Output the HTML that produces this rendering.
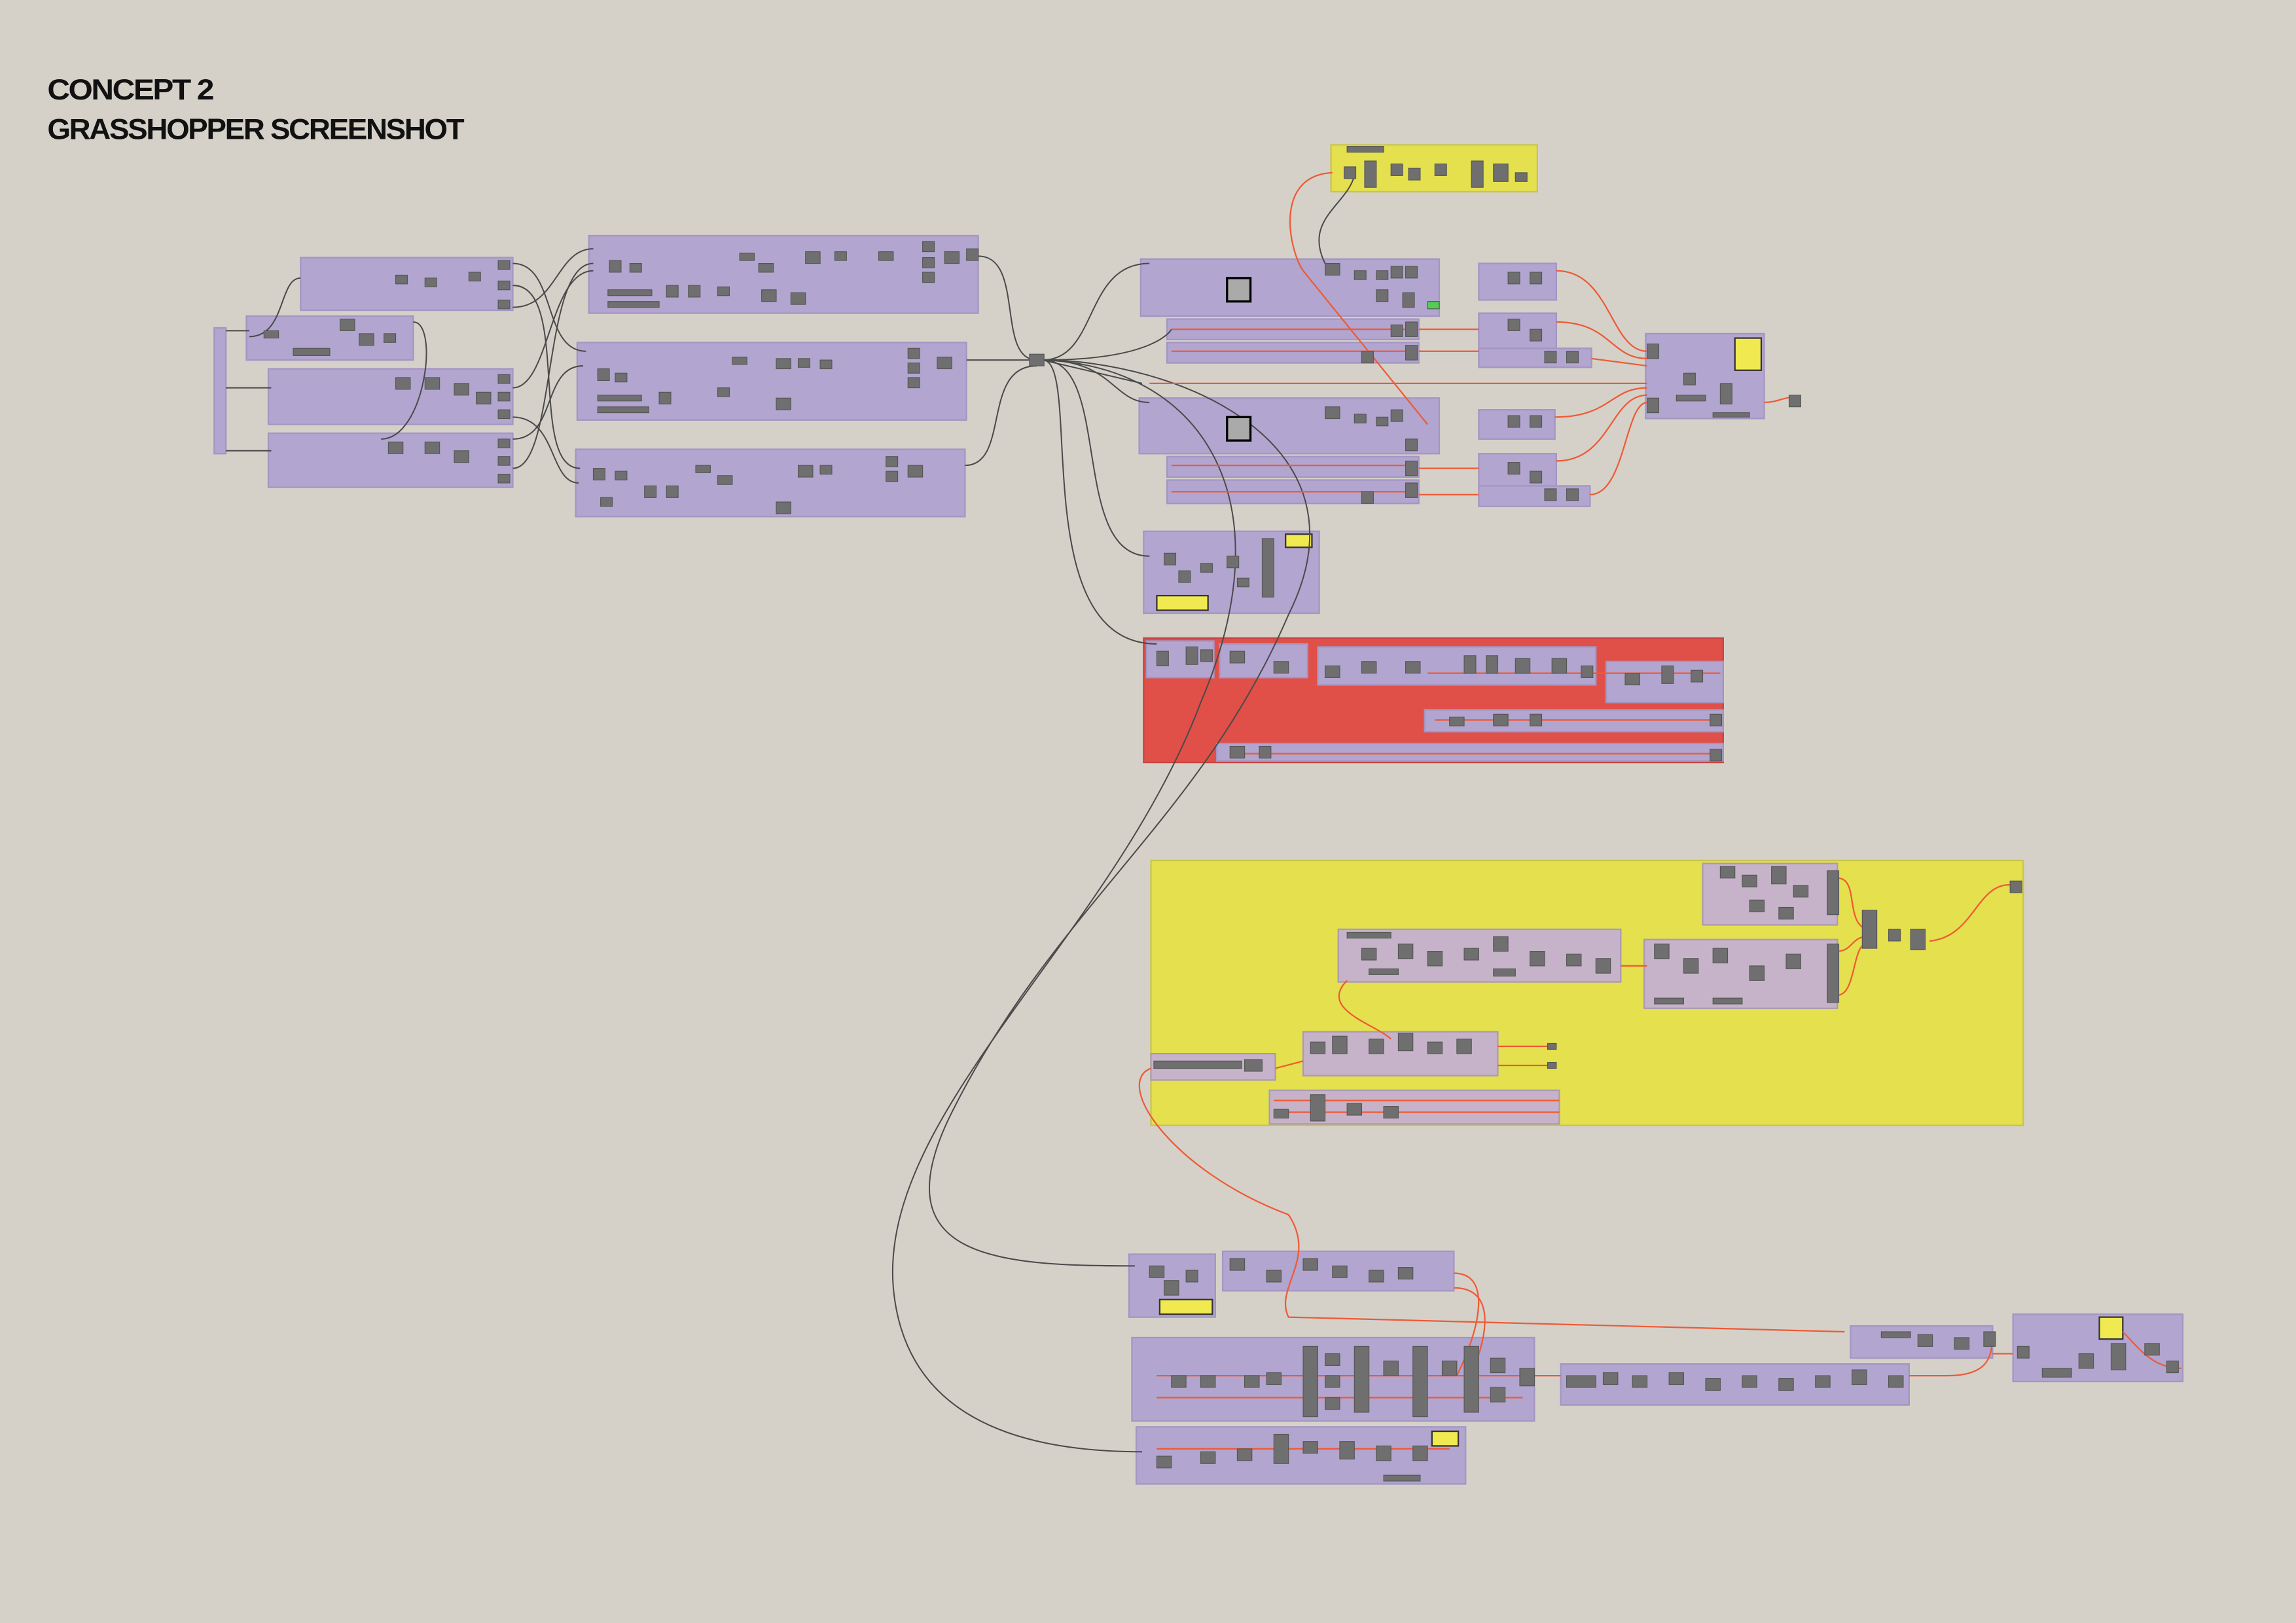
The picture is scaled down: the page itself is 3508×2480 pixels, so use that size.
<!DOCTYPE html>
<html><head><meta charset="utf-8"><style>
html,body{margin:0;padding:0;background:#d5d1c9;}
svg{display:block}
.g{fill:#b2a5cf;stroke:#a396c2;stroke-width:1}
.gi{fill:#c6b3c9;stroke:#a99ab3;stroke-width:1}
.n{fill:#6f6f6f;stroke:#555;stroke-width:.5}
.w{fill:none;stroke:#4a4a4a;stroke-width:.9}
.o{fill:none;stroke:#ee5a35;stroke-width:1}
.t{font-family:"Liberation Sans",sans-serif;font-weight:bold;font-size:20px;fill:#111;letter-spacing:-1px}
</style></head><body>
<svg width="3508" height="2480" viewBox="0 0 1568 1109" xmlns="http://www.w3.org/2000/svg">
<rect width="1568" height="1109" fill="#d5d1c9"/>
<text class="t" x="32" y="68" textLength="113" lengthAdjust="spacingAndGlyphs">CONCEPT 2</text>
<text class="t" x="32" y="95" textLength="284" lengthAdjust="spacingAndGlyphs">GRASSHOPPER SCREENSHOT</text>

<rect class="g" x="146" y="224" width="8" height="86"/>
<rect class="g" x="205" y="176" width="145" height="36"/>
<rect class="g" x="168" y="216" width="114" height="30"/>
<rect class="g" x="183" y="252" width="167" height="38"/>
<rect class="g" x="183" y="296" width="167" height="37"/>
<rect class="g" x="402" y="161" width="266" height="53"/>
<rect class="g" x="394" y="234" width="266" height="53"/>
<rect class="g" x="393" y="307" width="266" height="46"/>

<rect x="909" y="99" width="141" height="32" fill="#e4e04e" stroke="#c9c450"/>
<rect class="g" x="779" y="177" width="204" height="39"/>
<rect class="g" x="797" y="218" width="172" height="14"/>
<rect class="g" x="797" y="234" width="172" height="14"/>
<rect class="g" x="1010" y="180" width="53" height="25"/>
<rect class="g" x="1010" y="214" width="53" height="26"/>
<rect class="g" x="1010" y="238" width="77" height="13"/>
<rect class="g" x="1124" y="228" width="81" height="58"/>
<rect x="1185" y="231" width="18" height="22" fill="#f0ea50" stroke="#333"/>
<rect class="g" x="778" y="272" width="205" height="38"/>
<rect class="g" x="797" y="312" width="172" height="14"/>
<rect class="g" x="797" y="328" width="172" height="16"/>
<rect class="g" x="1010" y="280" width="52" height="20"/>
<rect class="g" x="1010" y="310" width="53" height="24"/>
<rect class="g" x="1010" y="332" width="76" height="14"/>
<rect class="g" x="781" y="363" width="120" height="56"/>
<rect x="790" y="407" width="35" height="10" fill="#f0ea50" stroke="#333"/>
<rect x="878" y="365" width="18" height="9" fill="#f0ea50" stroke="#333"/>

<rect x="781" y="436" width="396" height="85" fill="#e04f48" stroke="#c84440"/>
<rect class="g" x="783" y="438" width="46" height="25"/>
<rect class="g" x="833" y="440" width="60" height="23"/>
<rect class="g" x="900" y="442" width="190" height="26"/>
<rect class="g" x="1097" y="452" width="80" height="28"/>
<rect class="g" x="973" y="485" width="204" height="15"/>
<rect class="g" x="831" y="508" width="346" height="12"/>

<rect x="786" y="588" width="596" height="181" fill="#e4e04e" stroke="#c8c44a"/>
<rect class="gi" x="1163" y="590" width="92" height="42"/>
<rect class="gi" x="914" y="635" width="193" height="36"/>
<rect class="gi" x="1123" y="642" width="132" height="47"/>
<rect class="gi" x="890" y="705" width="133" height="30"/>
<rect class="gi" x="786" y="720" width="85" height="18"/>
<rect class="gi" x="867" y="745" width="198" height="23"/>

<rect class="g" x="771" y="857" width="59" height="43"/>
<rect x="792" y="888" width="36" height="10" fill="#f0ea50" stroke="#333"/>
<rect class="g" x="835" y="855" width="158" height="27"/>
<rect class="g" x="773" y="914" width="275" height="57"/>
<rect class="g" x="776" y="975" width="225" height="39"/>
<rect x="978" y="978" width="18" height="10" fill="#f0ea50" stroke="#333"/>
<rect class="g" x="1066" y="932" width="238" height="28"/>
<rect class="g" x="1264" y="906" width="97" height="22"/>
<rect class="g" x="1375" y="898" width="116" height="46"/>
<rect x="1434" y="900" width="16" height="15" fill="#f0ea50" stroke="#333"/>

<g class="w">
<path d="M350,180 C380,180 370,240 400,240"/>
<path d="M350,195 C390,195 360,320 396,320"/>
<path d="M350,210 C380,210 380,170 405,170"/>
<path d="M350,265 C375,265 375,185 405,185"/>
<path d="M350,300 C380,300 370,250 398,250"/>
<path d="M350,320 C380,320 370,180 405,180"/>
<path d="M350,285 C380,285 375,330 395,330"/>
<path d="M154,265 L185,265 M154,226 L170,226 M154,308 L185,308"/>
<path d="M205,190 C190,190 195,230 170,230"/>
<path d="M282,220 C300,220 290,300 260,300"/>
<path d="M668,175 C700,175 680,246 708,246"/>
<path d="M660,246 L708,246"/>
<path d="M659,318 C690,318 670,250 708,250"/>
<path d="M712,246 C750,246 740,180 785,180"/>
<path d="M712,246 C760,246 760,275 785,275"/>
<path d="M712,246 C790,246 800,225 800,225"/>
<path d="M712,246 C760,246 730,380 785,380"/>
<path d="M712,246 C740,246 700,440 790,440"/>
<path d="M712,246 C800,246 940,300 880,420 C820,560 720,620 650,760 C600,860 680,865 775,865"/>
<path d="M712,246 C820,250 880,340 820,480 C760,640 600,760 610,880 C620,990 740,992 780,992"/>
<path d="M712,246 L780,262"/>
<path d="M905,180 C890,150 920,140 925,120"/>
</g>
<rect class="n" x="703" y="242" width="10" height="8"/>

<g class="o">
<path d="M910,118 C870,120 880,170 890,185 L975,290"/>
<path d="M969,225 L1010,225 M969,240 L1010,240 M969,320 L1010,320 M969,338 L1010,338"/>
<path d="M1063,185 C1100,185 1100,240 1125,240"/>
<path d="M1063,220 C1100,220 1100,245 1125,245"/>
<path d="M1087,245 L1125,250"/>
<path d="M1062,285 C1100,285 1100,265 1125,265"/>
<path d="M1063,315 C1100,315 1100,270 1125,270"/>
<path d="M1086,338 C1110,338 1110,275 1125,275"/>
<path d="M785,262 L1125,262"/>
<path d="M800,225 L965,225 M800,240 L965,240 M800,318 L965,318 M800,336 L965,336"/>
<path d="M1205,275 C1215,275 1220,270 1228,272"/>
<path d="M1255,600 C1270,600 1260,630 1275,635 M1255,650 C1265,650 1265,640 1275,640 M1255,680 C1268,680 1265,645 1275,645"/>
<path d="M1318,643 C1350,640 1350,600 1377,605"/>
<path d="M1107,660 L1125,660 M1023,715 L1060,715 M1023,728 L1060,728 M871,730 L890,725"/>
<path d="M786,730 C760,740 800,800 880,830 C900,860 870,880 880,900 L1260,910"/>
<path d="M920,670 C900,690 940,700 950,710"/>
<path d="M870,760 L1065,760 M870,752 L1065,752"/>
<path d="M993,870 C1020,870 1010,910 995,940 M993,880 C1025,880 1015,920 1000,950"/>
<path d="M1048,940 L1066,940 M1304,940 L1330,940 C1360,940 1360,925 1361,915 M1361,925 L1375,925"/>
<path d="M790,940 L1040,940 M790,955 L1040,955 M790,990 L990,990"/>
<path d="M1450,910 C1460,920 1470,935 1490,935"/>
<path d="M975,460 L1175,460 M980,492 L1175,492 M840,515 L1175,515"/>
</g>

<g class="n">
<rect x="340" y="178" width="8" height="6"/><rect x="340" y="192" width="8" height="6"/><rect x="340" y="205" width="8" height="6"/>
<rect x="270" y="188" width="8" height="6"/><rect x="290" y="190" width="8" height="6"/><rect x="320" y="186" width="8" height="6"/>
<rect x="232" y="218" width="10" height="8"/><rect x="245" y="228" width="10" height="8"/><rect x="200" y="238" width="25" height="5"/><rect x="180" y="226" width="10" height="5"/><rect x="262" y="228" width="8" height="6"/>
<rect x="340" y="256" width="8" height="6"/><rect x="340" y="268" width="8" height="6"/><rect x="340" y="280" width="8" height="6"/><rect x="270" y="258" width="10" height="8"/><rect x="290" y="258" width="10" height="8"/><rect x="310" y="262" width="10" height="8"/><rect x="325" y="268" width="10" height="8"/>
<rect x="340" y="300" width="8" height="6"/><rect x="340" y="312" width="8" height="6"/><rect x="340" y="324" width="8" height="6"/><rect x="265" y="302" width="10" height="8"/><rect x="290" y="302" width="10" height="8"/><rect x="310" y="308" width="10" height="8"/>
<rect x="416" y="178" width="8" height="8"/><rect x="430" y="180" width="8" height="6"/><rect x="415" y="198" width="30" height="4"/><rect x="415" y="206" width="35" height="4"/><rect x="455" y="195" width="8" height="8"/><rect x="470" y="195" width="8" height="8"/><rect x="505" y="173" width="10" height="5"/><rect x="518" y="180" width="10" height="6"/><rect x="550" y="172" width="10" height="8"/><rect x="570" y="172" width="8" height="6"/><rect x="600" y="172" width="10" height="6"/><rect x="630" y="165" width="8" height="7"/><rect x="630" y="176" width="8" height="7"/><rect x="630" y="186" width="8" height="7"/><rect x="645" y="172" width="10" height="8"/><rect x="660" y="170" width="8" height="8"/><rect x="520" y="198" width="10" height="8"/><rect x="540" y="200" width="10" height="8"/><rect x="490" y="196" width="8" height="6"/>
<rect x="408" y="252" width="8" height="8"/><rect x="420" y="255" width="8" height="6"/><rect x="408" y="270" width="30" height="4"/><rect x="408" y="278" width="35" height="4"/><rect x="450" y="268" width="8" height="8"/><rect x="500" y="244" width="10" height="5"/><rect x="530" y="245" width="10" height="7"/><rect x="545" y="245" width="8" height="6"/><rect x="560" y="246" width="8" height="6"/><rect x="620" y="238" width="8" height="7"/><rect x="620" y="248" width="8" height="7"/><rect x="620" y="258" width="8" height="7"/><rect x="640" y="244" width="10" height="8"/><rect x="530" y="272" width="10" height="8"/><rect x="490" y="265" width="8" height="6"/>
<rect x="405" y="320" width="8" height="8"/><rect x="420" y="322" width="8" height="6"/><rect x="440" y="332" width="8" height="8"/><rect x="455" y="332" width="8" height="8"/><rect x="475" y="318" width="10" height="5"/><rect x="490" y="325" width="10" height="6"/><rect x="545" y="318" width="10" height="8"/><rect x="560" y="318" width="8" height="6"/><rect x="605" y="312" width="8" height="7"/><rect x="605" y="322" width="8" height="7"/><rect x="620" y="318" width="10" height="8"/><rect x="530" y="343" width="10" height="8"/><rect x="410" y="340" width="8" height="6"/>
<rect x="920" y="100" width="25" height="4"/><rect x="918" y="114" width="8" height="8"/><rect x="932" y="110" width="8" height="18"/><rect x="950" y="112" width="8" height="8"/><rect x="962" y="115" width="8" height="8"/><rect x="980" y="112" width="8" height="8"/><rect x="1005" y="110" width="8" height="18"/><rect x="1020" y="112" width="10" height="12"/><rect x="1035" y="118" width="8" height="6"/>
<rect x="838" y="190" width="16" height="16" fill="#aaa" stroke="#000" stroke-width="1.5"/><rect x="838" y="285" width="16" height="16" fill="#aaa" stroke="#000" stroke-width="1.5"/>
<rect x="905" y="180" width="10" height="8"/><rect x="925" y="185" width="8" height="6"/><rect x="940" y="185" width="8" height="6"/><rect x="950" y="182" width="8" height="8"/><rect x="960" y="182" width="8" height="8"/><rect x="940" y="198" width="8" height="8"/><rect x="958" y="200" width="8" height="10"/><rect x="975" y="206" width="8" height="5" fill="#5c5"/>
<rect x="960" y="220" width="8" height="10"/><rect x="950" y="222" width="8" height="8"/><rect x="960" y="236" width="8" height="10"/><rect x="930" y="240" width="8" height="8"/>
<rect x="905" y="278" width="10" height="8"/><rect x="925" y="283" width="8" height="6"/><rect x="940" y="285" width="8" height="6"/><rect x="950" y="280" width="8" height="8"/><rect x="960" y="300" width="8" height="8"/><rect x="960" y="315" width="8" height="10"/><rect x="960" y="330" width="8" height="10"/><rect x="930" y="336" width="8" height="8"/>
<rect x="1030" y="186" width="8" height="8"/><rect x="1045" y="186" width="8" height="8"/><rect x="1030" y="218" width="8" height="8"/><rect x="1045" y="225" width="8" height="8"/><rect x="1055" y="240" width="8" height="8"/><rect x="1070" y="240" width="8" height="8"/>
<rect x="1030" y="284" width="8" height="8"/><rect x="1045" y="284" width="8" height="8"/><rect x="1030" y="316" width="8" height="8"/><rect x="1045" y="322" width="8" height="8"/><rect x="1055" y="334" width="8" height="8"/><rect x="1070" y="334" width="8" height="8"/>
<rect x="1125" y="235" width="8" height="10"/><rect x="1125" y="272" width="8" height="10"/><rect x="1150" y="255" width="8" height="8"/><rect x="1175" y="262" width="8" height="14"/><rect x="1145" y="270" width="20" height="4"/><rect x="1170" y="282" width="25" height="3"/><rect x="1222" y="270" width="8" height="8"/>
<rect x="795" y="378" width="8" height="8"/><rect x="805" y="390" width="8" height="8"/><rect x="820" y="385" width="8" height="6"/><rect x="838" y="380" width="8" height="8"/><rect x="862" y="368" width="8" height="40"/><rect x="845" y="395" width="8" height="6"/>
<rect x="790" y="445" width="8" height="10"/><rect x="810" y="442" width="8" height="12"/><rect x="820" y="444" width="8" height="8"/><rect x="840" y="445" width="10" height="8"/><rect x="870" y="452" width="10" height="8"/><rect x="905" y="455" width="10" height="8"/><rect x="930" y="452" width="10" height="8"/><rect x="960" y="452" width="10" height="8"/><rect x="1000" y="448" width="8" height="12"/><rect x="1015" y="448" width="8" height="12"/><rect x="1035" y="450" width="10" height="10"/><rect x="1060" y="450" width="10" height="10"/><rect x="1080" y="455" width="8" height="8"/><rect x="1110" y="460" width="10" height="8"/><rect x="1135" y="455" width="8" height="12"/><rect x="1155" y="458" width="8" height="8"/><rect x="990" y="490" width="10" height="6"/><rect x="1020" y="488" width="10" height="8"/><rect x="1045" y="488" width="8" height="8"/><rect x="840" y="510" width="10" height="8"/><rect x="860" y="510" width="8" height="8"/><rect x="1168" y="488" width="8" height="8"/><rect x="1168" y="512" width="8" height="8"/>
<rect x="1175" y="592" width="10" height="8"/><rect x="1190" y="598" width="10" height="8"/><rect x="1210" y="592" width="10" height="12"/><rect x="1225" y="605" width="10" height="8"/><rect x="1248" y="595" width="8" height="30"/><rect x="1195" y="615" width="10" height="8"/><rect x="1215" y="620" width="10" height="8"/>
<rect x="1272" y="622" width="10" height="26"/><rect x="1290" y="635" width="8" height="8"/><rect x="1305" y="635" width="10" height="14"/><rect x="1373" y="602" width="8" height="8"/>
<rect x="920" y="637" width="30" height="4"/><rect x="930" y="648" width="10" height="8"/><rect x="955" y="645" width="10" height="10"/><rect x="975" y="650" width="10" height="10"/><rect x="1000" y="648" width="10" height="8"/><rect x="1020" y="640" width="10" height="10"/><rect x="1045" y="650" width="10" height="10"/><rect x="1070" y="652" width="10" height="8"/><rect x="1090" y="655" width="10" height="10"/><rect x="935" y="662" width="20" height="4"/><rect x="1020" y="662" width="15" height="5"/>
<rect x="1130" y="645" width="10" height="10"/><rect x="1150" y="655" width="10" height="10"/><rect x="1170" y="648" width="10" height="10"/><rect x="1195" y="660" width="10" height="10"/><rect x="1220" y="652" width="10" height="10"/><rect x="1248" y="645" width="8" height="40"/><rect x="1130" y="682" width="20" height="4"/><rect x="1170" y="682" width="20" height="4"/>
<rect x="895" y="712" width="10" height="8"/><rect x="910" y="708" width="10" height="12"/><rect x="935" y="710" width="10" height="10"/><rect x="955" y="706" width="10" height="12"/><rect x="975" y="712" width="10" height="8"/><rect x="995" y="710" width="10" height="10"/><rect x="1057" y="713" width="6" height="4"/><rect x="1057" y="726" width="6" height="4"/>
<rect x="788" y="725" width="60" height="5"/><rect x="850" y="724" width="12" height="8"/>
<rect x="895" y="748" width="10" height="18"/><rect x="920" y="754" width="10" height="8"/><rect x="945" y="756" width="10" height="8"/><rect x="870" y="758" width="10" height="6"/>
<rect x="785" y="865" width="10" height="8"/><rect x="795" y="875" width="10" height="10"/><rect x="810" y="868" width="8" height="8"/>
<rect x="840" y="860" width="10" height="8"/><rect x="865" y="868" width="10" height="8"/><rect x="890" y="860" width="10" height="8"/><rect x="910" y="865" width="10" height="8"/><rect x="935" y="868" width="10" height="8"/><rect x="955" y="866" width="10" height="8"/>
<rect x="800" y="940" width="10" height="8"/><rect x="820" y="940" width="10" height="8"/><rect x="850" y="940" width="10" height="8"/><rect x="865" y="938" width="10" height="8"/><rect x="890" y="920" width="10" height="48"/><rect x="905" y="925" width="10" height="8"/><rect x="905" y="940" width="10" height="8"/><rect x="905" y="955" width="10" height="8"/><rect x="925" y="920" width="10" height="45"/><rect x="945" y="930" width="10" height="10"/><rect x="965" y="920" width="10" height="48"/><rect x="985" y="930" width="10" height="10"/><rect x="1000" y="920" width="10" height="45"/><rect x="1018" y="928" width="10" height="10"/><rect x="1018" y="948" width="10" height="10"/><rect x="1038" y="935" width="10" height="12"/>
<rect x="790" y="995" width="10" height="8"/><rect x="820" y="992" width="10" height="8"/><rect x="845" y="990" width="10" height="8"/><rect x="870" y="980" width="10" height="20"/><rect x="890" y="985" width="10" height="8"/><rect x="915" y="985" width="10" height="12"/><rect x="940" y="988" width="10" height="10"/><rect x="965" y="988" width="10" height="10"/><rect x="945" y="1008" width="25" height="4"/>
<rect x="1070" y="940" width="20" height="8"/><rect x="1095" y="938" width="10" height="8"/><rect x="1115" y="940" width="10" height="8"/><rect x="1140" y="938" width="10" height="8"/><rect x="1165" y="942" width="10" height="8"/><rect x="1190" y="940" width="10" height="8"/><rect x="1215" y="942" width="10" height="8"/><rect x="1240" y="940" width="10" height="8"/><rect x="1265" y="936" width="10" height="10"/><rect x="1290" y="940" width="10" height="8"/>
<rect x="1285" y="910" width="20" height="4"/><rect x="1310" y="912" width="10" height="8"/><rect x="1335" y="914" width="10" height="8"/><rect x="1355" y="910" width="8" height="10"/>
<rect x="1378" y="920" width="8" height="8"/><rect x="1395" y="935" width="20" height="6"/><rect x="1420" y="925" width="10" height="10"/><rect x="1442" y="918" width="10" height="18"/><rect x="1465" y="918" width="10" height="8"/><rect x="1480" y="930" width="8" height="8"/>
</g>
</svg>
</body></html>
